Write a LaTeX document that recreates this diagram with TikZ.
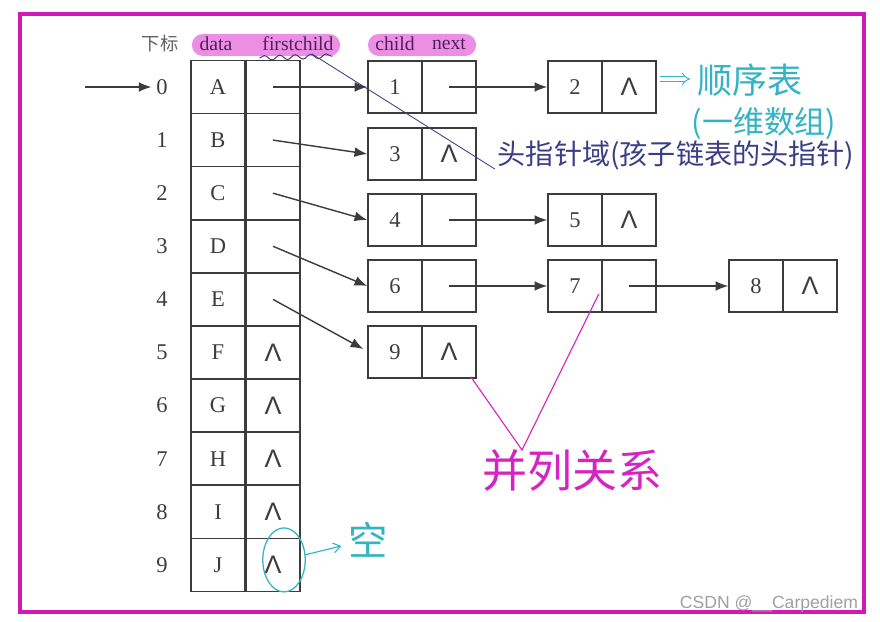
\documentclass[tikz,border=0pt]{standalone}
\usepackage{fontspec}
\setmainfont{Liberation Serif}
\newfontfamily\cjk{Noto Sans CJK SC}
\newfontfamily\nilfont{Liberation Sans}
\newfontfamily\markfont{Liberation Sans}
\usetikzlibrary{arrows.meta,positioning,calc,decorations.pathmorphing}
\definecolor{FrameMagenta}{HTML}{D01AB8}
\definecolor{PillPink}{HTML}{EC8FE4}
\definecolor{PillText}{HTML}{4E1F5A}
\definecolor{BoxGray}{HTML}{3C3C3C}
\definecolor{InkTeal}{HTML}{33B4C4}
\definecolor{InkBlue}{HTML}{3B3D86}
\definecolor{InkMagenta}{HTML}{D523C4}
\definecolor{MarkGray}{HTML}{A0A0A0}
\newcommand{\nil}{{\nilfont\fontsize{18}{18}\selectfont Λ}}
\tikzset{
  cellbox/.style={draw=BoxGray,line width=1.1pt,minimum width=1.35cm,minimum height=1.33cm,inner sep=0pt,text=BoxGray,font=\fontsize{16}{18}\selectfont},
  kidbox/.style={cellbox,minimum height=1.3cm},
  idx/.style={text=BoxGray,font=\fontsize{16}{18}\selectfont},
  pill/.style={fill=PillPink,rounded corners=0.27cm,minimum height=0.55cm,inner sep=0pt},
  hdr/.style={text=PillText,font=\fontsize{14}{16}\selectfont},
  ptr/.style={BoxGray,line width=1pt,-{Latex[length=9pt,width=7pt]}},
  ink/.style={font=\cjk\fontsize{#1}{#1}\selectfont},
}

\begin{document}
\begin{tikzpicture}[x=0.025cm,y=-0.025cm,>=Latex]
  \useasboundingbox (0,0) rectangle (880,622);
  \fill[white] (0,0) rectangle (880,622);
  \draw[FrameMagenta,line width=2.2pt] (20,14) rectangle (864,612);

  % header
  \node[idx,text=BoxGray!80,font=\cjk\fontsize{13}{14}\selectfont] (sub) at (160,44) {下标};
  \node[pill,minimum width=3.7cm] (pillA) at (266,45) {};
  \node[pill,minimum width=2.7cm] (pillB) at (422,45) {};
  \node[hdr] (hdata) at (216,44) {data};
  \node[hdr] (hfc) at (298,44) {firstchild};
  \node[hdr] (hchild) at (395,44) {child};
  \node[hdr] (hnext) at (449,44) {next};

  % table
  \foreach \i/\ch in {0/A,1/B,2/C,3/D,4/E,5/F,6/G,7/H,8/I,9/J}{
    \node[idx] (n\i) at (162,{87+53.1*\i}) {\i};
    \node[cellbox] (d\i) at (218,{87+53.1*\i}) {\ch};
  }
  \foreach \i in {0,...,4} \node[cellbox] (f\i) at (273,{87+53.1*\i}) {};
  \foreach \i in {5,...,9} \node[cellbox] (f\i) at (273,{87+53.1*\i}) {\nil};
  \coordinate (head) at (85,87);
  \draw[ptr] (head) -- (n0.west);

  % child lists
  \node[kidbox] (c1) at (395,87) {1};  \node[kidbox] (p1) at (449,87) {};
  \node[kidbox] (c2) at (575,87) {2};  \node[kidbox] (p2) at (629,87) {\nil};
  \node[kidbox] (c3) at (395,154) {3}; \node[kidbox] (p3) at (449,154) {\nil};
  \node[kidbox] (c4) at (395,220) {4}; \node[kidbox] (p4) at (449,220) {};
  \node[kidbox] (c5) at (575,220) {5}; \node[kidbox] (p5) at (629,220) {\nil};
  \node[kidbox] (c6) at (395,286) {6}; \node[kidbox] (p6) at (449,286) {};
  \node[kidbox] (c7) at (575,286) {7}; \node[kidbox] (p7) at (629,286) {};
  \node[kidbox] (c8) at (756,286) {8}; \node[kidbox] (p8) at (810,286) {\nil};
  \node[kidbox] (c9) at (395,352) {9}; \node[kidbox] (p9) at (449,352) {\nil};

  \draw[ptr] (f0.center) -- (c1.west);
  \draw[ptr] (f1.center) -- (c3.west);
  \draw[ptr] (f2.center) -- (c4.west);
  \draw[ptr] (f3.center) -- (c6.west);
  \draw[ptr] (f4.center) -- ($(c9.west)+(-4,-3)$);
  \draw[ptr] (p1.center) -- (c2.west);
  \draw[ptr] (p4.center) -- (c5.west);
  \draw[ptr] (p6.center) -- (c7.west);
  \draw[ptr] (p7.center) -- (c8.west);

  % handwritten notes
  \draw[InkBlue!80!violet,line width=0.7pt,decorate,decoration={snake,segment length=11pt,amplitude=1.6pt}]
    ($(hfc.south west)+(2,2)$) -- ($(hfc.south east)+(-6,0)$);
  \node[ink=20,text=InkBlue] (headnote) at (676,155) {头指针域(孩子链表的头指针)};
  \draw[InkBlue,line width=0.6pt] ($(hfc.south)+(14,-2)$) -- ($(headnote.west)+(2,14)$);

  \node[ink=25,text=InkTeal] (seqnote) at (750,80) {顺序表};
  \node[ink=22,text=InkTeal] (arrnote) at (764,124) {(一维数组)};
  \draw[InkTeal,line width=0.6pt,double distance=2.5pt,-{Implies}] ($(p2.east)+(3,-8)$) -- ($(seqnote.west)+(-2,-1)$);

  \coordinate (apex) at (522,450);
  \draw[InkMagenta,line width=0.8pt] ($(c7.east)+(-4,8)$) -- (apex) -- ($(p9.south east)+(-6,-2)$);
  \node[ink=32,text=InkMagenta] (pairnote) at (572,470) {并列关系};

  \draw[InkTeal,line width=0.9pt] ($(f9.center)+(11,-5)$) ellipse (0.53cm and 0.8cm);
  \node[ink=28,text=InkTeal] (nullnote) at (368,540) {空};
  \draw[InkTeal,line width=0.8pt,-{Straight Barb[length=5pt,width=7pt]}] ($(f9.east)+(4,-10)$) -- ($(nullnote.west)+(-2,6)$);

  \node[text=MarkGray,font=\markfont\fontsize{12.5}{12.5}\selectfont,anchor=east] (mark) at (863,604) {CSDN @\_\_Carpediem};
\end{tikzpicture}
\end{document}
